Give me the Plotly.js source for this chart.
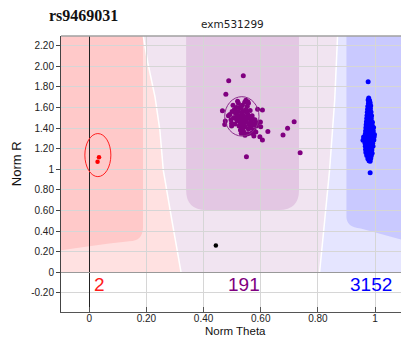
<!DOCTYPE html>
<html>
<head>
<meta charset="utf-8">
<script src="https://cdn.plot.ly/plotly-3.0.1.min.js"></script>
<style>html,body{margin:0;padding:0;background:#fff;}#chart{width:401px;height:337px;}</style>
</head>
<body>
<div id="chart"></div>
<script>
// ---- data ----
const snpName = 'rs9469031';
const probeName = 'exm531299';
const clusterLabels = ['2', '191', '3152'];

// AA cluster (red)
const aaTheta = [0.034, 0.029];
const aaR = [1.115, 1.072];

// AB cluster (purple)
const abTheta = [
  0.530,0.540,0.525,0.545,0.535,0.520,0.550,0.528,0.538,0.512,
  0.555,0.542,0.518,0.532,0.548,0.505,0.560,0.524,0.546,0.536,
  0.515,0.553,0.500,0.565,0.529,0.541,0.557,0.510,0.570,0.522,
  0.544,0.496,0.574,0.533,0.539,0.527,0.551,0.517,0.543,0.531,
  0.558,0.508,0.563,0.521,0.547,0.535,0.526,0.552,0.514,0.538,
  0.580,0.576,0.568,0.585,0.562,0.590,0.503,0.492,0.519,0.548,
  0.557,0.487,0.498,0.555,0.545,0.566,0.532,0.579,0.571,0.583,
  0.539,0.488,0.478,0.466,0.476,0.474,0.498,0.606,0.589,0.717,
  0.694,0.678,0.625,0.606,0.597,0.576,0.738,0.550,0.555,0.599,0.600
];
const abR = [
  1.500,1.520,1.480,1.490,1.530,1.510,1.470,1.455,1.560,1.540,
  1.530,1.440,1.470,1.590,1.580,1.500,1.500,1.420,1.410,1.620,
  1.600,1.610,1.560,1.460,1.380,1.360,1.390,1.440,1.520,1.640,
  1.650,1.480,1.430,1.545,1.475,1.515,1.555,1.525,1.505,1.465,
  1.440,1.580,1.570,1.560,1.460,1.430,1.600,1.500,1.490,1.400,
  1.480,1.380,1.350,1.420,1.410,1.450,1.620,1.530,1.660,1.670,
  1.640,1.520,1.420,1.345,1.330,1.400,1.350,1.445,1.490,1.360,
  1.908,1.859,1.727,1.568,1.467,1.435,1.445,1.574,1.581,1.461,
  1.397,1.331,1.367,1.283,1.315,1.322,1.159,1.120,1.655,1.458,1.412
];

// BB cluster (blue)
const bbTheta = [
  0.976,
  0.978,0.976,0.981,0.977,0.983,0.975,0.980,0.985,0.974,0.979,0.984,
  0.973,0.978,0.986,0.972,0.977,0.982,0.988,0.971,0.976,0.981,0.987,
  0.970,0.975,0.980,0.986,0.991,0.969,0.974,0.979,0.985,0.990,
  0.968,0.973,0.978,0.983,0.989,0.995,0.967,0.972,0.977,0.982,0.988,0.994,
  0.966,0.971,0.976,0.981,0.987,0.993,0.998,
  0.960,0.965,0.970,0.975,0.980,0.986,0.992,0.997,
  0.958,0.964,0.969,0.974,0.979,0.985,0.991,0.996,
  0.965,0.970,0.975,0.980,0.986,0.992,0.966,0.971,0.976,0.982,0.988,0.993,
  0.967,0.972,0.978,0.983,0.989,0.968,0.974,0.979,0.985,0.990,
  0.971,0.977,0.982,0.987,0.975,0.980,0.985,0.979,0.983,
  0.983
];
const bbR = [
  1.849,
  1.690,1.672,1.668,1.641,1.645,1.612,1.608,1.615,1.583,1.579,1.586,
  1.552,1.548,1.555,1.521,1.518,1.524,1.520,1.492,1.488,1.494,1.490,
  1.461,1.458,1.464,1.460,1.456,1.432,1.428,1.434,1.430,1.426,
  1.402,1.398,1.404,1.400,1.396,1.404,1.372,1.368,1.374,1.370,1.366,1.372,
  1.342,1.338,1.344,1.340,1.336,1.342,1.338,
  1.312,1.308,1.314,1.310,1.306,1.312,1.308,1.314,
  1.282,1.278,1.284,1.280,1.276,1.282,1.278,1.284,
  1.252,1.248,1.254,1.250,1.246,1.252,1.222,1.218,1.224,1.220,1.216,1.222,
  1.192,1.188,1.194,1.190,1.186,1.162,1.158,1.164,1.160,1.156,
  1.132,1.128,1.134,1.130,1.102,1.098,1.104,1.082,1.078,
  0.965
];

// no-call (black)
const ncTheta = [0.443];
const ncR = [0.259];

const xTickVals = [0, 0.2, 0.4, 0.6, 0.8, 1];
const xTickText = ['0', '0.20', '0.40', '0.60', '0.80', '1'];
const yTickVals = [-0.2, 0, 0.2, 0.4, 0.6, 0.8, 1, 1.2, 1.4, 1.6, 1.8, 2.0, 2.2];
const yTickText = ['-0.20', '0', '0.20', '0.40', '0.60', '0.80', '1', '1.20', '1.40', '1.60', '1.80', '2.00', '2.20'];

// ---- traces ----
const mk = (x, y, color, size) => ({
  type: 'scatter', mode: 'markers', x: x, y: y,
  marker: {color: color, size: size, line: {width: 0}},
  hoverinfo: 'x+y', showlegend: false
});
const traces = [
  mk(aaTheta, aaR, '#ff0000', 4.5),
  mk(abTheta, abR, '#800080', 5),
  mk(bbTheta, bbR, '#0000ff', 5),
  mk(ncTheta, ncR, '#000000', 4.5)
];

// ---- background regions ----
const X0 = -0.099, X1 = 1.1, YT = 2.293;
const b1 = '0.189,2.293 L 0.205,2.031 L 0.230,1.703 L 0.247,1.380 L 0.259,0.991 L 0.289,0.505 L 0.321,0';
const b1r = '0.321,0 L 0.289,0.505 L 0.259,0.991 L 0.247,1.380 L 0.230,1.703 L 0.205,2.031 L 0.189,2.293';
const b2 = '0.869,2.293 L 0.859,1.671 L 0.841,0.991 L 0.824,0.505 L 0.806,0';
const b2r = '0.806,0 L 0.824,0.505 L 0.841,0.991 L 0.859,1.671 L 0.869,2.293';

const region = (path, color) => ({type: 'path', path: path, xref: 'x', yref: 'y', fillcolor: color, line: {width: 0}, layer: 'below'});
const shapes = [
  region(`M ${X0},0 L ${X0},${YT} L ${b1} Z`, '#ffe1e1'),
  region(`M ${b1r} L ${b2} Z`, '#f1e4f1'),
  region(`M ${b2r} L ${X1},${YT} L ${X1},0 Z`, '#e5e5ff'),
  region(`M ${X0},${YT} L 0.188,${YT} L 0.188,0.44 Q 0.188,0.305 0.14,0.300 L 0.07,0.278 L 0.0,0.252 L ${X0},0.214 Z`, '#ffc9c9'),
  region(`M 0.339,${YT} L 0.734,${YT} L 0.734,0.798 Q 0.734,0.604 0.664,0.604 L 0.409,0.604 Q 0.339,0.604 0.339,0.798 Z`, '#e3c7e3'),
  region(`M 0.9,${YT} L ${X1},${YT} L ${X1},0.31 L 0.95,0.425 Q 0.9,0.44 0.9,0.537 Z`, '#c9c9ff'),
  {type: 'path', path: `M ${b1}`, xref: 'x', yref: 'y', line: {color: '#ffffff', width: 1.5}, layer: 'below'},
  {type: 'path', path: `M ${b2}`, xref: 'x', yref: 'y', line: {color: '#ffffff', width: 1.5}, layer: 'below'},
  // cluster ellipses
  {type: 'circle', xref: 'x', yref: 'y', x0: 0.030 - 0.0455, x1: 0.030 + 0.0455, y0: 1.137 - 0.209, y1: 1.137 + 0.209,
   line: {color: '#ff2020', width: 1}, layer: 'above'},
  {type: 'circle', xref: 'x', yref: 'y', x0: 0.534 - 0.060, x1: 0.534 + 0.060, y0: 1.513 - 0.191, y1: 1.513 + 0.191,
   line: {color: '#8a2a8a', width: 1}, layer: 'above'},
  // top frame
  {type: 'line', xref: 'paper', yref: 'paper', x0: 0, x1: 1, y0: 1, y1: 1, line: {color: '#a0a0a0', width: 1.5}, layer: 'above'}
];

const annFont = (c) => ({family: 'Arial, Liberation Sans, sans-serif', size: 19, color: c});
const annotations = [
  {text: clusterLabels[0], x: 0.034, y: -0.12, xref: 'x', yref: 'y', showarrow: false, font: annFont('#ff1a1a')},
  {text: clusterLabels[1], x: 0.542, y: -0.12, xref: 'x', yref: 'y', showarrow: false, font: annFont('#800080')},
  {text: clusterLabels[2], x: 0.986, y: -0.12, xref: 'x', yref: 'y', showarrow: false, font: annFont('#0000ff')},
  {text: probeName, x: 0.505, y: 1.045, xref: 'paper', yref: 'paper', showarrow: false, yanchor: 'middle',
   font: {family: 'DejaVu Sans, sans-serif', size: 10.5, color: '#222'}},
  {text: 'Norm Theta', x: 0.512, y: -0.070, xref: 'paper', yref: 'paper', showarrow: false, yanchor: 'middle',
   borderpad: 0, font: {family: 'Arial, Liberation Sans, sans-serif', size: 11.5, color: '#111'}},
  {text: 'Norm R', x: -0.132, y: 0.536, xref: 'paper', yref: 'paper', showarrow: false, textangle: -90,
   xanchor: 'center', yanchor: 'middle',
   font: {family: 'Arial, Liberation Sans, sans-serif', size: 13, color: '#111'}}
];

const layout = {
  width: 401, height: 337,
  margin: {l: 61, r: 0, t: 36, b: 25, pad: 0},
  paper_bgcolor: '#ffffff', plot_bgcolor: '#ffffff',
  showlegend: false,
  title: {text: '<b>' + snpName + '</b>', xref: 'container', yref: 'container', x: 49 / 401, xanchor: 'left',
          y: 1 - 15.5 / 337, yanchor: 'middle',
          font: {family: 'Liberation Serif, Times New Roman, serif', size: 16, color: '#111'}},
  xaxis: {range: [X0, 1.091], tickvals: xTickVals, ticktext: xTickText, ticks: 'inside', ticklen: 5,
          tickcolor: '#555', showgrid: true, gridcolor: '#d6d6d6', gridwidth: 1,
          zeroline: true, zerolinecolor: '#222', zerolinewidth: 1,
          showline: true, linecolor: '#555', linewidth: 1, automargin: false, ticklabelstandoff: -3,
          tickfont: {family: 'Arial, Liberation Sans, sans-serif', size: 10, color: '#222'}},
  yaxis: {range: [-0.386, 2.293], tickvals: yTickVals, ticktext: yTickText, ticks: 'outside', ticklen: 4,
          tickcolor: '#444', showgrid: true, gridcolor: '#d6d6d6', gridwidth: 1,
          zeroline: true, zerolinecolor: '#999', zerolinewidth: 1,
          showline: true, linecolor: '#444', linewidth: 1, automargin: false,
          tickfont: {family: 'Arial, Liberation Sans, sans-serif', size: 10, color: '#222'}},
  shapes: shapes,
  annotations: annotations
};

Plotly.newPlot('chart', traces, layout, {displayModeBar: false, staticPlot: true});
</script>
</body>
</html>
